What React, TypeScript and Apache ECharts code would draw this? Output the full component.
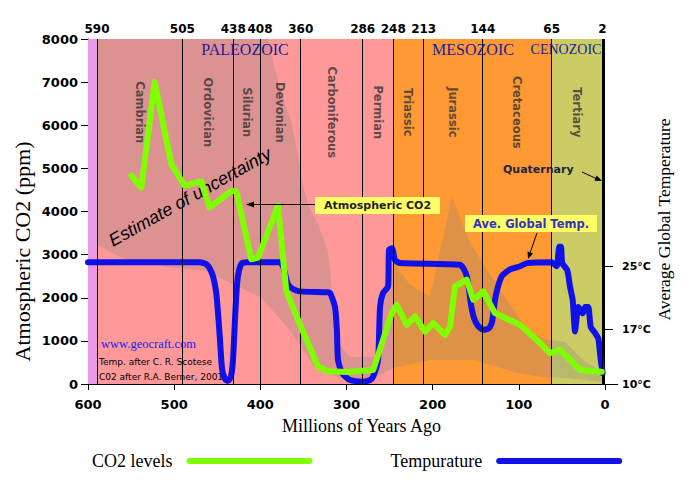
import React, { useEffect, useRef } from 'react';
import * as echarts from 'echarts';

// ---- data ----
const periodNames = ['Cambrian', 'Ordovician', 'Silurian', 'Devonian', 'Carboniferous', 'Permian', 'Triassic', 'Jurassic', 'Cretaceous', 'Tertiary'];
const boundaryLabels = ['590', '505', '438', '408', '360', '286', '248', '213', '144', '65', '2'];
// boundary positions as drawn on the (hand-drawn) age axis
const boundaryPos = [589.5, 490.5, 431.4, 400.4, 353.1, 281.2, 245.7, 210.4, 141.9, 61.9, 3.1];

const eraColors = ['#e89ae8', '#ff9999', '#ff9933', '#cccc66', '#000000'];

const co2Age = [549.7, 538.1, 522.6, 503.3, 487.8, 468.5, 458.7, 433.7, 427.9, 410.5, 402.7, 379.5, 369.9, 352.4, 333.1, 321.5, 299.4, 268.9, 247.5, 241.7, 230.1, 220.5, 208.9, 199.3, 185.7, 179.9, 174.1, 160.5, 152.8, 141.2, 127.7, 98.6, 79.3, 63.8, 52.2, 29.0, 3.8];
const co2Ppm = [4830, 4558, 7000, 5100, 4598, 4698, 4093, 4481, 4465, 2891, 2930, 4133, 2156, 1302, 412, 295, 279, 326, 1644, 1837, 1372, 1565, 1216, 1412, 1140, 1333, 2263, 2419, 1953, 2147, 1644, 1372, 1023, 714, 791, 326, 286];

const tempAge = [600, 470, 461.9, 456.1, 452.6, 450.3, 446.8, 444.5, 441.0, 437.5, 434.0, 431.7, 429.4, 427.1, 424.7, 421.3, 415.5, 377.2, 373.7, 371.4, 367.9, 362.1, 354.0, 322.6, 319.1, 313.3, 311.0, 309.9, 305.2, 295.9, 280.8, 272.7, 269.2, 263.4, 261.1, 257.6, 251.8, 250.7, 247.2, 243.7, 237.9, 168.3, 163.6, 160.1, 157.8, 155.5, 152.0, 147.4, 141.6, 134.6, 131.1, 127.7, 124.2, 119.5, 110.2, 98.6, 90.5, 61.9, 56.1, 53.0, 51.1, 49.6, 43.8, 40.6, 37.5, 34.8, 32.8, 31.0, 25.9, 23.2, 19.4, 16.6, 11.6, 7.8, 5.0, 2.7];
const tempC = [25.5, 25.5, 25.2, 24.1, 22.6, 20.7, 15.6, 12.0, 10.6, 10.4, 11.0, 13.1, 18.2, 22.6, 24.5, 25.4, 25.5, 25.5, 25.0, 24.1, 22.7, 22.1, 21.8, 21.7, 21.6, 19.8, 16.5, 13.1, 11.4, 10.5, 10.3, 10.5, 10.9, 13.1, 19.8, 21.6, 22.4, 27.1, 27.3, 25.8, 25.4, 25.2, 24.6, 23.6, 22.0, 20.1, 18.4, 17.4, 16.9, 17.1, 17.9, 20.7, 22.4, 23.8, 24.6, 25.0, 25.4, 25.5, 25.0, 27.5, 27.5, 25.4, 24.5, 22.4, 20.7, 16.7, 18.6, 19.8, 19.0, 19.8, 19.8, 17.3, 16.5, 15.8, 13.1, 11.4];

const bandUpperAge = [589.5, 391.1, 381.8, 371.4, 364.4, 358.6, 352.8, 344.7, 333.1, 321.5, 315.7, 307.5, 295.9, 266.9, 261.1, 255.3, 246.0, 226.3, 203.1, 177.6, 156.7, 136.9, 113.7, 87.0, 63.8, 46.4, 25.5, 2.3];
const bandUpperPpm = [8000, 8000, 7186, 6488, 6116, 5558, 4791, 4163, 3698, 3093, 1953, 907, 628, 628, 1256, 2186, 2837, 2302, 2023, 4349, 3279, 2651, 1953, 1186, 1023, 977, 558, 279];
const bandLowerAge = [589.5, 561.7, 503.7, 464.2, 399.2, 367.9, 336.5, 307.5, 266.9, 246.0, 203.1, 153.2, 125.3, 102.1, 72.0, 46.4, 2.3];
const bandLowerPpm = [3233, 2930, 2698, 2628, 2000, 1302, 372, 140, 140, 372, 558, 558, 395, 256, 163, 140, 47];

const tempTicks = [10, 17, 25];

const SANS = 'DejaVu Sans';
const SERIF = 'Liberation Serif';

export default function App() {
  const ref = useRef<HTMLDivElement>(null);
  useEffect(() => {
    const chart = echarts.init(ref.current as HTMLDivElement, null, { renderer: 'svg' });

    const eraEdges = [600, boundaryPos[0], boundaryPos[6], boundaryPos[9], boundaryPos[10], 0];
    const eraAreas = eraColors.map((c, i) => [
      { xAxis: eraEdges[i], itemStyle: { color: c } },
      { xAxis: eraEdges[i + 1] },
    ]);

    const periodLabelData = periodNames.map((n, i) => ({
      name: n,
      value: [(boundaryPos[i] + boundaryPos[i + 1]) / 2, 6300],
    }));

    const tickFont = { fontFamily: SANS, fontWeight: 'bold' as const, fontSize: 13, color: '#000' };

    const txt = (x: number, y: number, text: string, style: any, extra: any = {}) => ({
      type: 'text', x, y, z: 10, silent: true, ...extra,
      style: { text, align: 'left', verticalAlign: 'middle', ...style },
    });
    const line = (x1: number, y1: number, x2: number, y2: number, stroke = '#000', lineWidth = 1) => ({
      type: 'line', z: 10, silent: true, shape: { x1, y1, x2, y2 }, style: { stroke, lineWidth },
    });
    const head = (pts: number[][], fill = '#000') => ({
      type: 'polygon', z: 10, silent: true, shape: { points: pts }, style: { fill },
    });

    const option: any = {
      animation: false,
      backgroundColor: '#ffffff',
      grid: { left: 88, right: 86, top: 39, bottom: 103, containLabel: false, outerBoundsMode: 'none' },
      xAxis: [
        {
          type: 'value', min: 0, max: 600, interval: 100, inverse: true, position: 'bottom',
          axisLine: { show: true, onZero: false, lineStyle: { color: '#000', width: 1 } },
          axisTick: { show: true, length: 6, lineStyle: { color: '#000' } },
          axisLabel: { margin: 14, ...tickFont, formatter: (v: number) => String(v) },
          splitLine: { show: false },
          name: 'Millions of Years Ago', nameLocation: 'middle', nameGap: 33,
          nameTextStyle: { fontFamily: SERIF, fontSize: 18, color: '#000', padding: [0, 0, 0, 30] },
        },
        {
          type: 'value', min: 0, max: 600, inverse: true, position: 'top',
          axisLine: { show: true, lineStyle: { color: '#d8cf9a', type: 'dotted' } },
          axisTick: { show: false },
          axisLabel: {
            customValues: boundaryPos,
            formatter: (v: number) => {
              let best = 0;
              boundaryPos.forEach((b, i) => { if (Math.abs(b - v) < Math.abs(boundaryPos[best] - v)) best = i; });
              return boundaryLabels[best];
            },
            margin: 4, ...tickFont, fontSize: 12,
          },
          splitLine: { show: false },
        },
      ],
      yAxis: [
        {
          type: 'value', min: 0, max: 8000, interval: 1000, position: 'left',
          axisLine: { show: true, onZero: false, lineStyle: { color: '#000' } },
          axisTick: { show: true, length: 7, lineStyle: { color: '#000' } },
          axisLabel: { margin: 10, ...tickFont, formatter: (v: number) => String(v) },
          splitLine: { show: false },
          name: 'Atmospheric CO2 (ppm)', nameLocation: 'middle', nameRotate: 90, nameGap: 55,
          nameMoveOverlap: false,
          nameTextStyle: { fontFamily: SERIF, fontSize: 22, color: '#000', padding: [0, 80, 0, 0] },
        },
        {
          type: 'value', min: 10, max: 53.95, position: 'right', offset: 2,
          axisLine: { show: false },
          axisTick: { show: true, length: 8, customValues: tempTicks, lineStyle: { color: '#000' } },
          axisLabel: { customValues: tempTicks, formatter: '{value}°C', margin: 15, fontFamily: SANS, fontWeight: 'bold', fontSize: 11, color: '#000' },
          splitLine: { show: false },
          name: 'Average Global Temperature', nameLocation: 'middle', nameRotate: 90, nameGap: 48,
          nameMoveOverlap: false,
          nameTextStyle: { fontFamily: SERIF, fontSize: 17.5, color: '#000', padding: [0, 16, 0, 0] },
        },
      ],
      legend: {
        left: 87, top: 447, orient: 'horizontal', align: 'right',
        itemWidth: 126, itemHeight: 6, itemGap: 78, selectedMode: false,
        icon: 'path://M3,0 L123,0 A3,3 0 0 1 123,6 L3,6 A3,3 0 0 1 3,0 Z',
        textStyle: { fontFamily: SERIF, fontSize: 18, color: '#000', padding: [0, 9, 0, 0] },
        data: ['CO2 levels', 'Tempurature'],
      },
      series: [
        {
          name: 'eras', type: 'line', data: [], z: 0, silent: true,
          markArea: { silent: true, label: { show: false }, data: eraAreas },
        },
        {
          name: 'uncertainty', type: 'custom', z: 1, silent: true,
          data: [[300, 4000]],
          renderItem: (_p: any, api: any) => {
            const pts: number[][] = [];
            bandUpperAge.forEach((a, i) => pts.push(api.coord([a, bandUpperPpm[i]])));
            for (let i = bandLowerAge.length - 1; i >= 0; i--) pts.push(api.coord([bandLowerAge[i], bandLowerPpm[i]]));
            return { type: 'polygon', shape: { points: pts }, style: { fill: 'rgba(128,128,128,0.27)' } };
          },
        },
        {
          name: 'boundaries', type: 'line', data: [], z: 2, silent: true,
          markLine: {
            silent: true, symbol: ['none', 'none'], label: { show: false },
            lineStyle: { color: '#000', width: 1, type: 'solid' },
            data: boundaryPos.map((v) => ({ xAxis: v })),
          },
        },
        {
          name: 'periods', type: 'scatter', z: 3, silent: true, symbolSize: 0,
          data: periodLabelData,
          label: {
            show: true, formatter: '{b}', rotate: -90, position: 'inside',
            fontFamily: SANS, fontWeight: 'bold', fontSize: 11.5, color: '#333333',
          },
        },
        {
          name: 'Tempurature', type: 'line', yAxisIndex: 1, z: 4, silent: true,
          color: '#1010e8', showSymbol: false, smooth: 0.2,
          lineStyle: { color: '#1010e8', width: 6, cap: 'round', join: 'round' },
          data: tempAge.map((a, i) => [a, tempC[i]]),
        },
        {
          name: 'CO2 levels', type: 'line', yAxisIndex: 0, z: 6, silent: true,
          color: '#80ff00', showSymbol: false,
          lineStyle: { color: '#80ff00', width: 6, cap: 'round', join: 'round' },
          data: co2Age.map((a, i) => [a, co2Ppm[i]]),
        },
      ],
      graphic: [
        line(81, 384.5, 618, 384.5),
        txt(245, 49, 'PALEOZOIC', { fontFamily: SERIF, fontSize: 16, fill: '#1c1c9c', align: 'center' }),
        txt(473, 49, 'MESOZOIC', { fontFamily: SERIF, fontSize: 16, fill: '#1c1c9c', align: 'center' }),
        txt(566, 49, 'CENOZOIC', { fontFamily: SERIF, fontSize: 14, fill: '#1c1c9c', align: 'center' }),
        txt(190, 197, 'Estimate of uncertainty', { fontFamily: 'Liberation Sans', fontStyle: 'italic', fontSize: 18, fill: '#000', align: 'center' }, { rotation: 0.51, z: 5 }),
        // Atmospheric CO2 callout
        { type: 'rect', z: 10, silent: true, shape: { x: 315, y: 197, width: 125, height: 17 }, style: { fill: '#ffff66' } },
        txt(377.5, 205.5, 'Atmospheric CO2', { fontFamily: SANS, fontWeight: 'bold', fontSize: 11, fill: '#222222', align: 'center' }),
        line(315, 204.5, 252, 204.5),
        head([[246, 204.5], [254, 201.5], [254, 207.5]]),
        // Ave. Global Temp. callout
        { type: 'rect', z: 10, silent: true, shape: { x: 465, y: 215, width: 132, height: 17 }, style: { fill: '#ffff66' } },
        txt(531, 223.5, 'Ave. Global Temp.', { fontFamily: SANS, fontWeight: 'bold', fontSize: 11.5, fill: '#3333bb', align: 'center' }),
        line(537, 233, 530, 253),
        head([[528, 259], [527.5, 251.4], [533.1, 253.4]]),
        // Quaternary
        txt(503, 169, 'Quaternary', { fontFamily: SANS, fontWeight: 'bold', fontSize: 11, fill: '#222244' }),
        line(582, 172, 596, 178.5),
        head([[602, 181], [594.4, 180.8], [596.8, 175.4]]),
        // credits
        txt(101, 344, 'www.geocraft.com', { fontFamily: SERIF, fontSize: 12.5, fill: '#2020ee' }),
        txt(99, 362, 'Temp. after C. R. Scotese', { fontFamily: SANS, fontSize: 9, fill: '#000' }),
        txt(99, 377, 'C02 after R.A. Berner, 2001', { fontFamily: SANS, fontSize: 9, fill: '#000' }),
      ],
    };

    chart.setOption(option);
    return () => chart.dispose();
  }, []);

  return (
    <div
      ref={ref}
      style={{ position: 'fixed', left: 0, top: 0, width: 691, height: 487, background: '#fff' }}
    />
  );
}
